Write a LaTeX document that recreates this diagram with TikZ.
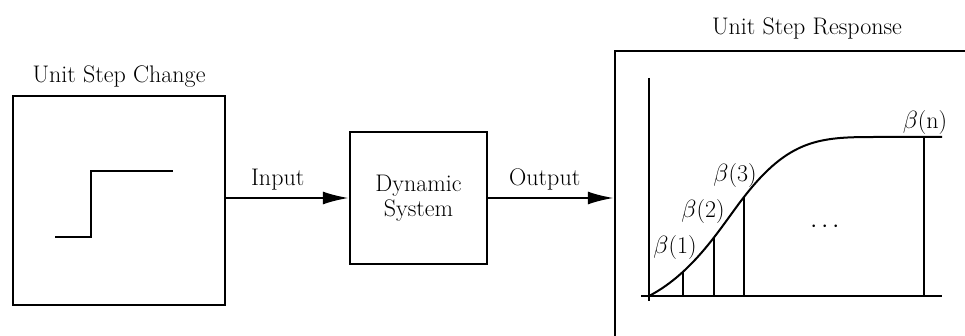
\documentclass[tikz,border=0pt]{standalone}
\usepackage{amsmath}
\usepackage{tikz}
\usetikzlibrary{arrows.meta}

\tikzset{
    box/.style={draw, line width=2.4pt, inner sep=0pt},
    lbl/.style={font=\fontsize{24}{25}\selectfont, inner sep=1pt},
    arr/.style={line width=2.2pt, -{Latex[length=26pt,width=13pt]}},
    axis/.style={line width=2pt},
    bar/.style={line width=2pt}
}

\begin{document}
\begin{tikzpicture}[x=1pt, y=-1pt]
    \clip (0,0) rectangle (965,336);

    % Unit step change
    \node[box, minimum width=212pt, minimum height=209pt] (chg) at (119,200.5) {};
    \node[lbl] (chgtitle) at (119,77) {Unit Step Change};
    \draw[line width=2.2pt] (55,237) -- (91,237) -- (91,171) -- (173,171);

    % Dynamic system
    \node[box, lbl, line width=2.4pt, minimum width=137pt, minimum height=132pt,
          align=center] (sys) at (418.5,198) {Dynamic\\System};

    % Unit step response
    \node[box, minimum width=400pt, minimum height=330pt] (resp) at (815,216) {};
    \node[lbl] (resptitle) at (807,28) {Unit Step Response};

    % Arrows
    \draw[arr] (sys.west -| chg.east) -- node[lbl, above=6pt, pos=0.42] (inp) {Input} (sys.west);
    \draw[arr] (sys.east) -- node[lbl, above=6pt, pos=0.45] (outp) {Output} (sys.east -| resp.west);

    % Axes
    \coordinate (o) at (649,296);
    \coordinate (ytop) at (649,78);
    \coordinate (xend) at (942,296);
    \draw[axis] (ytop) -- ([yshift=-5pt]o);
    \draw[axis] ([xshift=-8pt]o) -- (xend);

    % Response curve
    \draw[axis] (o) .. controls (695,272) and (722,225) .. (744,197)
        coordinate[pos=0.28] (b1) coordinate[pos=0.6] (b2) coordinate (b3)
        .. controls (789,139) and (820,137) .. (875,137)
        -- (942,137) coordinate[pos=0.73] (bn);

    % Samples
    \draw[bar] (b1) -- (b1 |- o);
    \draw[bar] (b2) -- (b2 |- o);
    \draw[bar, line width=2.6pt] (b3) -- (b3 |- o);
    \draw[bar] (bn) -- (bn |- o);
    \node[lbl] (l1) at (675,248) {$\beta$(1)};
    \node[lbl] (l2) at (703,212) {$\beta$(2)};
    \node[lbl] (l3) at (735,176) {$\beta$(3)};
    \node[lbl] (ln) at (925,123) {$\beta$(n)};
    \node[lbl] (dots) at (827,227) {$\cdots$};
\end{tikzpicture}
\end{document}
